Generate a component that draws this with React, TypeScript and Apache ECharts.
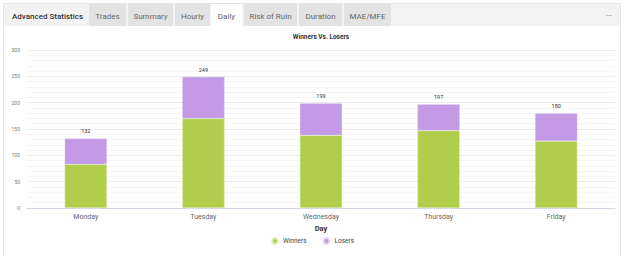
import React, { useEffect, useRef } from "react";
import * as echarts from "echarts";

const days = ["Monday", "Tuesday", "Wednesday", "Thursday", "Friday"];
const winners = [83, 170, 138, 147, 127];
const losers = [49, 79, 61, 50, 53];
const totals = [132, 249, 199, 197, 180];

const tabs = [
  { name: "Trades", x: 89, w: 37, active: false },
  { name: "Summary", x: 128, w: 45, active: false },
  { name: "Hourly", x: 175, w: 35, active: false },
  { name: "Daily", x: 211, w: 31, active: true },
  { name: "Risk of Ruin", x: 244, w: 53, active: false },
  { name: "Duration", x: 299, w: 43, active: false },
  { name: "MAE/MFE", x: 344, w: 47, active: false },
];

const FONT = "Roboto, 'Open Sans', sans-serif";

export default function App() {
  const ref = useRef<HTMLDivElement>(null);

  useEffect(() => {
    if (!ref.current) return;
    const chart = echarts.init(ref.current, undefined, { renderer: "svg" });

    const tabGraphics: any[] = [];
    tabs.forEach((t) => {
      tabGraphics.push({
        type: "rect",
        shape: { x: t.x, y: 4, width: t.w, height: 22 },
        style: { fill: t.active ? "#ffffff" : "#e3e3e3" },
        silent: true,
      });
      tabGraphics.push({
        type: "text",
        x: t.x + t.w / 2,
        y: 16,
        style: {
          text: t.name,
          fill: "#666",
          font: `400 8px ${FONT}`,
          align: "center",
          verticalAlign: "middle",
        },
        silent: true,
      });
    });

    chart.setOption({
      animation: false,
      backgroundColor: "#ffffff",
      textStyle: { fontFamily: FONT },
      graphic: [
        {
          type: "rect",
          shape: { x: 3.5, y: 3.5, width: 617, height: 260 },
          style: { fill: "#ffffff", stroke: "#e4e4e4", lineWidth: 1 },
          silent: true,
          z: -10,
        },
        {
          type: "rect",
          shape: { x: 4, y: 4, width: 616, height: 22 },
          style: { fill: "#f3f3f3" },
          silent: true,
          z: -9,
        },
        {
          type: "text",
          x: 12,
          y: 16,
          style: {
            text: "Advanced Statistics",
            fill: "#333",
            font: `500 8px ${FONT}`,
            verticalAlign: "middle",
          },
          silent: true,
        },
        ...tabGraphics,
        {
          type: "text",
          x: 609,
          y: 15,
          style: {
            text: "•••",
            fill: "#999",
            font: `400 6px ${FONT}`,
            align: "center",
            verticalAlign: "middle",
          },
          silent: true,
        },
      ],
      title: {
        text: "Winners Vs. Losers",
        left: 321,
        textAlign: "center",
        top: 33,
        padding: 0,
        textStyle: { fontSize: 6.5, fontWeight: "bold", color: "#333" },
      },
      legend: {
        bottom: 11,
        left: "center",
        padding: 0,
        icon: "circle",
        itemWidth: 6,
        itemHeight: 6,
        itemGap: 16,
        textStyle: { fontSize: 6.5, color: "#444" },
        data: ["Winners", "Losers"],
      },
      grid: { left: 27, right: 10, top: 50, bottom: 48 },
      xAxis: {
        type: "category",
        data: days,
        name: "Day",
        nameLocation: "middle",
        nameGap: 16,
        nameTextStyle: { fontSize: 7.5, fontWeight: "bold", color: "#333" },
        axisLine: { lineStyle: { color: "#d5d5e5" } },
        axisTick: { show: false },
        axisLabel: { fontSize: 7, color: "#666", margin: 5 },
      },
      yAxis: {
        type: "value",
        min: 0,
        max: 300,
        interval: 50,
        axisLine: { show: false },
        axisTick: { show: false },
        axisLabel: { fontSize: 5, color: "#777", margin: 7 },
        splitLine: { lineStyle: { color: "#ececec", width: 1 } },
        minorTick: { show: false, splitNumber: 5 },
        minorSplitLine: { show: true, lineStyle: { color: "#f6f6f6", width: 1 } },
      },
      series: [
        {
          name: "Winners",
          type: "bar",
          stack: "total",
          barWidth: "36%",
          data: winners,
          itemStyle: { color: "#b0ce4c", borderColor: "#e4efc0", borderWidth: 0.5 },
        },
        {
          name: "Losers",
          type: "bar",
          stack: "total",
          barWidth: "36%",
          data: losers,
          itemStyle: {
            color: "#c49ae6",
            borderColor: "#e6d6f5",
            borderWidth: 0.5,
            borderType: "dashed",
          },
          label: {
            show: true,
            position: "top",
            distance: 4,
            fontSize: 5.5,
            color: "#333",
            formatter: (p: any) => String(totals[p.dataIndex]),
          },
        },
      ],
    });

    return () => chart.dispose();
  }, []);

  return (
    <div
      ref={ref}
      style={{ position: "fixed", left: 0, top: 0, width: 625, height: 256 }}
    />
  );
}
